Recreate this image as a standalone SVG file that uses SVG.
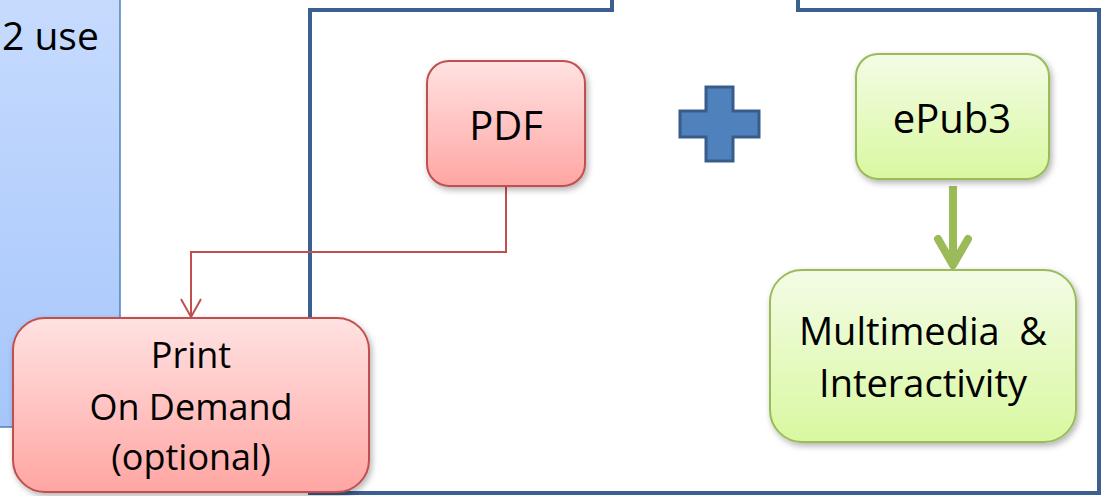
<svg xmlns="http://www.w3.org/2000/svg" width="1105" height="496" viewBox="0 0 1105 496">
<defs>
<linearGradient id="gBlue" x1="0" y1="0" x2="0" y2="1"><stop offset="0" stop-color="#c7dbfe"/><stop offset="1" stop-color="#a6c6fb"/></linearGradient>
<linearGradient id="gRed" x1="0" y1="0" x2="0" y2="1"><stop offset="0" stop-color="#ffe2e2"/><stop offset="1" stop-color="#ffa6a3"/></linearGradient>
<linearGradient id="gGreen" x1="0" y1="0" x2="0" y2="1"><stop offset="0" stop-color="#f3fce6"/><stop offset="1" stop-color="#d9f8a0"/></linearGradient>
<filter id="sh" x="-10%" y="-10%" width="130%" height="130%"><feDropShadow dx="2" dy="3" stdDeviation="3" flood-color="#000" flood-opacity="0.3"/></filter>
</defs>
<style>
text{font-family:"Open Sans","Liberation Sans",sans-serif;fill:#000;text-anchor:middle}
.red{fill:url(#gRed);stroke:#c0504d;stroke-width:2}
.green{fill:url(#gGreen);stroke:#9bbb59;stroke-width:2}
</style>
<rect width="1105" height="496" fill="#fff"/>
<g id="panel">
<rect x="-10" y="-10" width="130" height="437" fill="url(#gBlue)" stroke="#4f81bd" stroke-width="1.5"/>
<text x="2" y="50" font-size="39" style="text-anchor:start">2 use</text>
</g>
<g id="frame">
<path d="M612,-5 L612,10 L310,10 L310,493 L1099,493 L1099,10 L798,10 L798,-5" fill="none" stroke="#3b5f8f" stroke-width="4"/>
</g>
<g id="plus">
<path d="M706,87 H733 V111 H759 V137 H733 V161 H706 V137 H680 V111 H706 Z" fill="#4f81bd" stroke="#385d8a" stroke-width="3"/>
</g>
<g id="connectors">
<path d="M506,186 V252 H191 V316" fill="none" stroke="#c0504d" stroke-width="2"/>
<path d="M181,299 L191,317 L201,299" fill="none" stroke="#c0504d" stroke-width="2"/>
<path d="M953,186 V264" fill="none" stroke="#9bbb59" stroke-width="8"/>
<path d="M938,239 L953,265 L968,239" fill="none" stroke="#9bbb59" stroke-width="8" stroke-linecap="round" stroke-linejoin="round"/>
</g>
<g id="pdf">
<rect x="427" y="61" width="158" height="125" rx="22" class="red" filter="url(#sh)"/>
<text x="506" y="140" font-size="40">PDF</text>
</g>
<g id="epub3">
<rect x="856" y="54" width="193" height="125" rx="22" class="green" filter="url(#sh)"/>
<text x="952" y="133" font-size="40">ePub3</text>
</g>
<g id="multimedia">
<rect x="770" y="270" width="306" height="172" rx="32" class="green" filter="url(#sh)"/>
<text x="923" y="345" font-size="38" xml:space="preserve">Multimedia  &amp;</text>
<text x="923" y="397" font-size="38">Interactivity</text>
</g>
<g id="print">
<rect x="13" y="318" width="356" height="174" rx="32" class="red" filter="url(#sh)"/>
<text x="191" y="368" font-size="36">Print</text>
<text x="191" y="420" font-size="36">On Demand</text>
<text x="191" y="470" font-size="36">(optional)</text>
</g>
</svg>
